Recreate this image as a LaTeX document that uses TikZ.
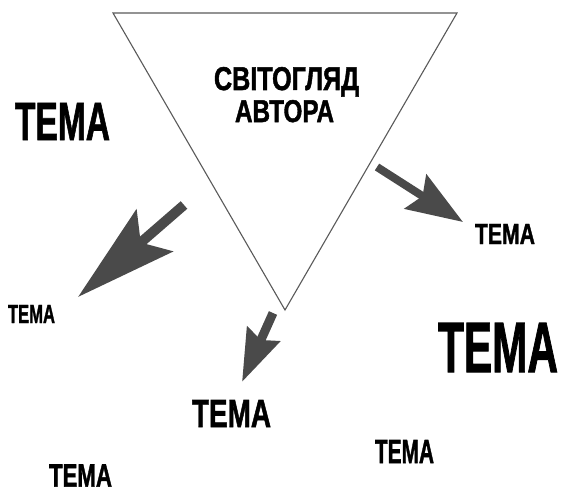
\documentclass[tikz,border=0pt]{standalone}
\usepackage{fontspec}
\usepackage{graphicx}
\setmainfont{Liberation Sans}[BoldFeatures={FakeBold=1.6}]
\usetikzlibrary{arrows.meta}
\definecolor{arrowgray}{HTML}{4A4A4A}
\definecolor{edgegray}{HTML}{5A5A5A}
\newcommand{\fitword}[3]{\resizebox{#1}{#2}{\bfseries #3}}
\begin{document}
\begin{tikzpicture}[x=1pt,y=-1pt,
  word/.style={inner sep=0pt,outer sep=0pt,anchor=center},
  titleword/.style={inner sep=0pt,outer sep=0pt,anchor=base},
  pointer/.style={draw=arrowgray,fill=arrowgray,line cap=butt}]
\useasboundingbox[fill=white] (0,0) rectangle (567,492);
% triangle
\coordinate (tl) at (113,13);
\coordinate (tr) at (457,13);
\coordinate (tb) at (285,310);
\draw[edgegray,line width=1.1pt,line join=miter] (tl) -- (tr) -- (tb) -- cycle;
% title
\node[titleword] (title1) at (286.5,90) {\fitword{145pt}{23pt}{СВІТОГЛЯД}};
\node[titleword] (title2) at (284.5,122) {\fitword{99pt}{22pt}{АВТОРА}};
% words
\node[word] (w1) at (62.5,121.5) {\fitword{95pt}{37pt}{ТЕМА}};
\node[word] (w2) at (31.5,314) {\fitword{47pt}{18pt}{ТЕМА}};
\node[word] (w3) at (505,234) {\fitword{60pt}{20pt}{ТЕМА}};
\node[word] (w4) at (498,347.5) {\fitword{120pt}{49pt}{ТЕМА}};
\node[word] (w5) at (231.5,413.5) {\fitword{79pt}{27pt}{ТЕМА}};
\node[word] (w6) at (404.5,451.5) {\fitword{59pt}{23pt}{ТЕМА}};
\node[word] (w7) at (80.5,475.5) {\fitword{63pt}{22pt}{ТЕМА}};
% arrows
\coordinate (a1s) at (184,205);
\coordinate (a1e) at (78,297);
\coordinate (a2s) at (377,167);
\coordinate (a2e) at (463,222);
\coordinate (a3s) at (273,313);
\coordinate (a3e) at (242,382);
\draw[pointer,line width=10pt,-{Stealth[length=101pt,width=55pt,inset=18pt]}] (a1s) -- (a1e);
\draw[pointer,line width=8pt,-{Stealth[length=56pt,width=40pt,inset=8pt]}] (a2s) -- (a2e);
\draw[pointer,line width=9pt,-{Stealth[length=52pt,width=35pt,inset=6pt]}] (a3s) -- (a3e);
\end{tikzpicture}
\end{document}
